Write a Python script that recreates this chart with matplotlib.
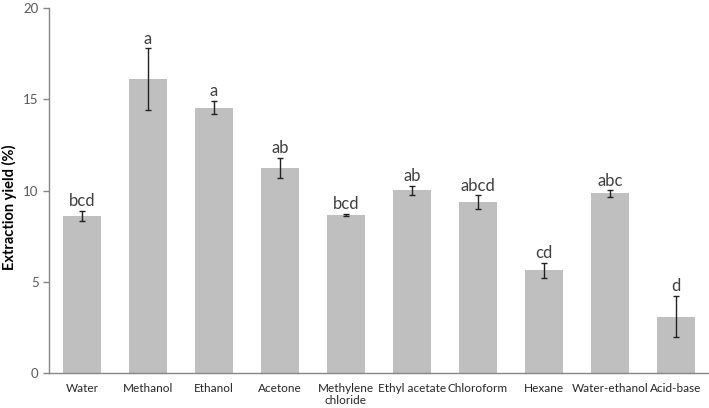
import matplotlib.pyplot as plt
import numpy as np

# solvents and extraction yield (%)
solvents = ['Water', 'Methanol', 'Ethanol', 'Acetone', 'Methylene\nchloride',
            'Ethyl acetate', 'Chloroform', 'Hexane', 'Water-ethanol', 'Acid-base']
yields = [8.62, 16.09, 14.55, 11.22, 8.68, 10.01, 9.35, 5.63, 9.84, 3.08]
errors = [0.27, 1.70, 0.37, 0.56, 0.06, 0.23, 0.38, 0.40, 0.17, 1.12]
letters = ['bcd', 'a', 'a', 'ab', 'bcd', 'ab', 'abcd', 'cd', 'abc', 'd']

plt.rcParams['font.family'] = ['Lato', 'DejaVu Sans']

fig = plt.figure(figsize=(7.09, 4.08), dpi=100)
ax = fig.add_axes([0.069, 0.086, 0.931, 0.894])

x = np.arange(len(solvents))
ax.bar(x, yields, width=0.57, color='#bfbfbf', zorder=2)
ax.errorbar(x, yields, yerr=errors, fmt='none', ecolor='#222222',
            elinewidth=1.0, capsize=2.5, capthick=1.0, zorder=3)

# significance letters above the error bars
for xi, v, e, lab in zip(x, yields, errors, letters):
    ax.text(xi, v + e + 0.1, lab, ha='center', va='bottom',
            fontsize=12, color='#404040')

ax.set_xlim(-0.5, 9.5)
ax.set_ylim(0, 20)
ax.set_yticks([0, 5, 10, 15, 20])
ax.set_xticks(x)
ax.set_xticklabels(solvents, fontsize=8.5, color='#262626', linespacing=1.1)
ax.tick_params(axis='x', length=0, pad=7)
ax.tick_params(axis='y', length=4, color='#868686', labelsize=9.5,
               labelcolor='#595959', width=1.0)

for side in ['top', 'right']:
    ax.spines[side].set_visible(False)
for side in ['left', 'bottom']:
    ax.spines[side].set_color('#868686')
    ax.spines[side].set_linewidth(1.0)

ax.set_ylabel('Extraction yield (%)', fontsize=10.5, fontweight='bold',
              color='#000000')
ax.yaxis.set_label_coords(-0.048, 0.455)

plt.savefig('out.png', dpi=100)
